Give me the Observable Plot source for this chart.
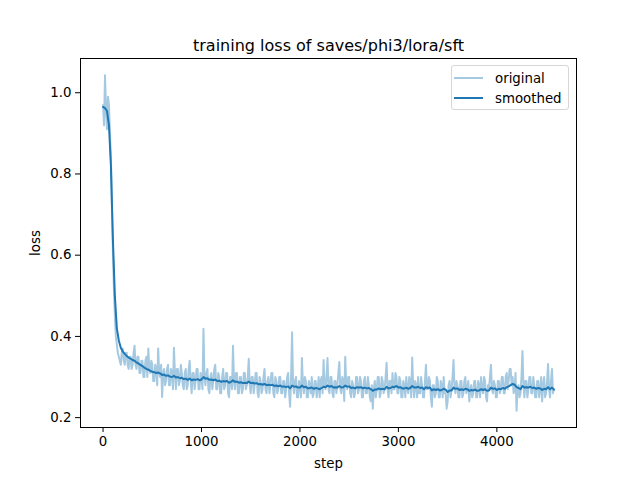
<!DOCTYPE html>
<html>
<head>
<meta charset="utf-8">
<script src="https://cdn.jsdelivr.net/npm/d3@7"></script>
<script src="https://cdn.jsdelivr.net/npm/@observablehq/plot@0.6"></script>
<style>
  html, body { margin: 0; padding: 0; background: white; }
  #wrap { position: relative; width: 640px; height: 480px; font-family: "DejaVu Sans", sans-serif; }
  #legend { position: absolute; left: 451px; top: 65px; width: 116px; height: 43px;
    border: 1px solid #d6d6d6; border-radius: 3px; background: rgba(255,255,255,0.8);
    font-size: 13.33px; color: black; }
  .row { position: absolute; left: 0; height: 20px; display: flex; align-items: center; }
  .swatch { width: 29px; height: 2px; margin-left: 2px; margin-right: 12px; }
</style>
</head>
<body>
<div id="wrap"></div>
<script>
const chartTitle = "training loss of saves/phi3/lora/sft";
const xLabel = "step";
const yLabel = "loss";
const seriesNames = ["original", "smoothed"];
const originalStepInterval = 10;
const smoothedStepInterval = 20;
const xTicks = [0, 1000, 2000, 3000, 4000];
const yTicks = [0.2, 0.4, 0.6, 0.8, 1.0];

const originalLoss = [
  0.97, 0.92, 1.043, 0.96, 0.91, 0.99, 0.97, 0.90, 0.84, 0.72, 0.61, 0.52, 0.45, 0.40, 0.38, 0.36, 0.35, 0.34, 0.33, 0.36,
  0.37, 0.34, 0.33, 0.36, 0.36, 0.33, 0.32, 0.35, 0.35, 0.32, 0.33, 0.36, 0.377, 0.33, 0.32, 0.35, 0.35, 0.31, 0.31, 0.34,
  0.34, 0.30, 0.30, 0.34, 0.35, 0.30, 0.37, 0.32, 0.31, 0.34, 0.33, 0.29, 0.29, 0.33, 0.32, 0.28, 0.37, 0.31, 0.30, 0.33,
  0.251, 0.31, 0.32, 0.28, 0.29, 0.32, 0.33, 0.28, 0.28, 0.32, 0.31, 0.27, 0.372, 0.31, 0.27, 0.32, 0.32, 0.28, 0.29, 0.33,
  0.31, 0.28, 0.27, 0.31, 0.32, 0.27, 0.28, 0.32, 0.34, 0.29, 0.26, 0.31, 0.31, 0.27, 0.29, 0.32, 0.32, 0.27, 0.27, 0.31,
  0.30, 0.27, 0.419, 0.30, 0.28, 0.31, 0.32, 0.27, 0.26, 0.30, 0.31, 0.27, 0.29, 0.32, 0.33, 0.27, 0.27, 0.31, 0.30, 0.26,
  0.26, 0.30, 0.32, 0.27, 0.28, 0.31, 0.31, 0.26, 0.25, 0.30, 0.30, 0.27, 0.377, 0.29, 0.27, 0.31, 0.31, 0.26, 0.26, 0.30,
  0.30, 0.26, 0.27, 0.31, 0.31, 0.27, 0.28, 0.30, 0.345, 0.28, 0.26, 0.30, 0.30, 0.26, 0.28, 0.31, 0.31, 0.26, 0.25, 0.30,
  0.29, 0.26, 0.27, 0.30, 0.32, 0.27, 0.26, 0.29, 0.30, 0.26, 0.28, 0.31, 0.31, 0.26, 0.25, 0.30, 0.29, 0.26, 0.27, 0.30,
  0.30, 0.26, 0.26, 0.29, 0.29, 0.25, 0.27, 0.30, 0.31, 0.26, 0.227, 0.30, 0.41, 0.28, 0.26, 0.29, 0.30, 0.25, 0.25, 0.29,
  0.28, 0.25, 0.347, 0.28, 0.26, 0.30, 0.29, 0.25, 0.25, 0.29, 0.28, 0.26, 0.30, 0.25, 0.26, 0.29, 0.29, 0.25, 0.27, 0.30,
  0.25, 0.29, 0.30, 0.26, 0.342, 0.28, 0.27, 0.30, 0.347, 0.27, 0.26, 0.30, 0.30, 0.26, 0.25, 0.29, 0.29, 0.26, 0.28, 0.31,
  0.337, 0.27, 0.26, 0.30, 0.29, 0.241, 0.35, 0.28, 0.27, 0.30, 0.30, 0.26, 0.25, 0.29, 0.28, 0.25, 0.26, 0.30, 0.30, 0.26,
  0.27, 0.30, 0.29, 0.25, 0.25, 0.29, 0.30, 0.26, 0.26, 0.30, 0.28, 0.25, 0.24, 0.28, 0.222, 0.27, 0.29, 0.25, 0.27, 0.30,
  0.30, 0.25, 0.26, 0.30, 0.29, 0.26, 0.27, 0.30, 0.335, 0.27, 0.25, 0.29, 0.29, 0.26, 0.31, 0.27, 0.27, 0.31, 0.30, 0.26,
  0.26, 0.30, 0.29, 0.25, 0.25, 0.29, 0.28, 0.25, 0.30, 0.27, 0.26, 0.30, 0.29, 0.25, 0.348, 0.28, 0.25, 0.29, 0.28, 0.25,
  0.30, 0.26, 0.26, 0.30, 0.28, 0.25, 0.25, 0.29, 0.33, 0.27, 0.27, 0.30, 0.29, 0.25, 0.227, 0.28, 0.28, 0.25, 0.26, 0.30,
  0.29, 0.25, 0.25, 0.29, 0.28, 0.25, 0.30, 0.26, 0.26, 0.222, 0.24, 0.28, 0.29, 0.25, 0.27, 0.30, 0.342, 0.27, 0.26, 0.29,
  0.28, 0.25, 0.25, 0.29, 0.29, 0.25, 0.26, 0.29, 0.30, 0.26, 0.27, 0.29, 0.24, 0.27, 0.28, 0.25, 0.26, 0.29, 0.29, 0.25,
  0.25, 0.29, 0.28, 0.25, 0.30, 0.27, 0.26, 0.30, 0.29, 0.25, 0.24, 0.28, 0.27, 0.30, 0.33, 0.27, 0.26, 0.29, 0.28, 0.25,
  0.25, 0.29, 0.29, 0.26, 0.27, 0.30, 0.30, 0.26, 0.26, 0.30, 0.31, 0.27, 0.29, 0.32, 0.32, 0.28, 0.30, 0.26, 0.27, 0.31,
  0.217, 0.27, 0.28, 0.25, 0.26, 0.30, 0.364, 0.28, 0.25, 0.29, 0.29, 0.25, 0.27, 0.30, 0.30, 0.26, 0.26, 0.30, 0.28, 0.25,
  0.25, 0.29, 0.29, 0.25, 0.27, 0.30, 0.24, 0.28, 0.30, 0.25, 0.26, 0.29, 0.332, 0.27, 0.25, 0.29, 0.32, 0.26, 0.27
];

const smoothedLoss = [
  0.965, 0.962, 0.955, 0.92, 0.82, 0.64, 0.50, 0.42, 0.39, 0.372,
  0.363, 0.357, 0.352, 0.348, 0.345, 0.342, 0.340, 0.336, 0.333, 0.330,
  0.327, 0.323, 0.320, 0.318, 0.315, 0.313, 0.312, 0.310, 0.311, 0.309,
  0.305, 0.306, 0.303, 0.304, 0.301, 0.300, 0.303, 0.299, 0.300, 0.297,
  0.298, 0.295, 0.296, 0.293, 0.296, 0.292, 0.294, 0.293, 0.295, 0.292,
  0.294, 0.300, 0.296, 0.297, 0.293, 0.294, 0.292, 0.294, 0.290, 0.291,
  0.288, 0.290, 0.289, 0.290, 0.286, 0.288, 0.292, 0.288, 0.289, 0.286,
  0.287, 0.285, 0.286, 0.285, 0.289, 0.285, 0.286, 0.284, 0.285, 0.282,
  0.283, 0.281, 0.283, 0.280, 0.281, 0.280, 0.281, 0.278, 0.279, 0.277,
  0.279, 0.276, 0.277, 0.275, 0.277, 0.272, 0.279, 0.276, 0.277, 0.274,
  0.274, 0.279, 0.275, 0.276, 0.272, 0.273, 0.274, 0.271, 0.273, 0.272,
  0.270, 0.273, 0.276, 0.275, 0.279, 0.276, 0.278, 0.274, 0.275, 0.274,
  0.278, 0.274, 0.275, 0.279, 0.276, 0.277, 0.273, 0.274, 0.272, 0.275,
  0.274, 0.275, 0.272, 0.274, 0.272, 0.273, 0.270, 0.266, 0.269, 0.269,
  0.272, 0.270, 0.271, 0.270, 0.276, 0.272, 0.273, 0.276, 0.275, 0.278,
  0.274, 0.275, 0.272, 0.272, 0.274, 0.271, 0.273, 0.278, 0.274, 0.274,
  0.276, 0.273, 0.274, 0.270, 0.275, 0.273, 0.274, 0.267, 0.270, 0.268,
  0.270, 0.267, 0.268, 0.271, 0.269, 0.263, 0.267, 0.267, 0.274, 0.271,
  0.272, 0.268, 0.270, 0.268, 0.271, 0.270, 0.266, 0.268, 0.267, 0.269,
  0.266, 0.267, 0.270, 0.268, 0.270, 0.266, 0.267, 0.274, 0.271, 0.272,
  0.268, 0.271, 0.270, 0.273, 0.271, 0.275, 0.277, 0.280, 0.283, 0.281,
  0.275, 0.273, 0.270, 0.278, 0.274, 0.275, 0.274, 0.276, 0.273, 0.274,
  0.271, 0.273, 0.272, 0.268, 0.271, 0.270, 0.275, 0.270, 0.274, 0.269
];

const colors = { original: "#a5c9e1", smoothed: "#1f77b4" };

const origData = originalLoss.map((loss, i) => ({ step: i * originalStepInterval, loss }));
const smoothData = smoothedLoss.map((loss, i) => ({ step: i * smoothedStepInterval, loss }));

function padded(ext) { const m = (ext[1] - ext[0]) * 0.05; return [ext[0] - m, ext[1] + m]; }
const allPoints = origData.concat(smoothData);
const xDomain = padded(d3.extent(allPoints, d => d.step));
const yDomain = padded(d3.extent(allPoints, d => d.loss));

const chart = Plot.plot({
  width: 640,
  height: 480,
  marginLeft: 80,
  marginRight: 64,
  marginTop: 58,
  marginBottom: 53,
  style: { fontFamily: "DejaVu Sans, sans-serif", fontSize: "13.33px", color: "black", background: "white", overflow: "visible" },
  x: { domain: xDomain },
  y: { domain: yDomain },
  marks: [
    Plot.line(origData, { x: "step", y: "loss", stroke: colors.original, strokeWidth: 2 }),
    Plot.line(smoothData, { x: "step", y: "loss", stroke: colors.smoothed, strokeWidth: 2 }),
    Plot.frame({ stroke: "black", strokeWidth: 1 }),
    Plot.axisX({ ticks: xTicks, tickSize: 5, tickPadding: 4, tickFormat: d3.format("d"), label: xLabel, labelAnchor: "center", labelArrow: "none", labelOffset: 40 }),
    Plot.axisY({ ticks: yTicks, tickSize: 5, tickPadding: 4, tickFormat: d3.format(".1f"), label: yLabel, labelAnchor: "center", labelArrow: "none", labelOffset: 50 }),
    Plot.text([chartTitle], { frameAnchor: "top", dy: -8, lineAnchor: "bottom", fontSize: 16, fill: "black" })
  ]
});

const wrap = document.getElementById("wrap");
wrap.appendChild(chart);

const legend = document.createElement("div");
legend.id = "legend";
seriesNames.forEach((name, i) => {
  const row = document.createElement("div");
  row.className = "row";
  row.style.top = (2 + i * 20) + "px";
  const sw = document.createElement("div");
  sw.className = "swatch";
  sw.style.background = colors[name];
  const label = document.createElement("span");
  label.textContent = name;
  row.appendChild(sw);
  row.appendChild(label);
  legend.appendChild(row);
});
wrap.appendChild(legend);
</script>
</body>
</html>
